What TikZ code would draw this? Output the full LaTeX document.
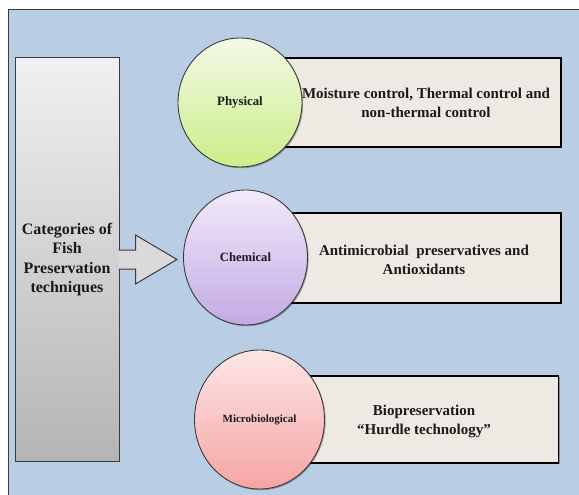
\documentclass[tikz,border=0pt]{standalone}
\usepackage{fontspec}
\setmainfont{Liberation Serif}
\usetikzlibrary{shapes.geometric,shadows,calc}
\definecolor{bgblue}{HTML}{B9CDE5}
\definecolor{framec}{HTML}{3A3A3A}
\definecolor{boxfill}{HTML}{EEEAE3}
\definecolor{physTop}{HTML}{F3F9E6}
\definecolor{physBot}{HTML}{CBEE88}
\definecolor{chemTop}{HTML}{F2EAFA}
\definecolor{chemBot}{HTML}{C2AAE4}
\definecolor{micTop}{HTML}{FDE6E6}
\definecolor{micBot}{HTML}{F6A4A4}
\definecolor{catTop}{HTML}{F0F0F3}
\definecolor{catBot}{HTML}{B4B4B4}
\definecolor{arrowfill}{HTML}{DADADA}
\definecolor{txt}{HTML}{1A1A1A}
\begin{document}
\begin{tikzpicture}[x=1pt,y=-1pt,
  softshadow/.style={drop shadow={shadow xshift=1.2pt,shadow yshift=-1.2pt,opacity=0.3,fill=black}},
  catbox/.style={rectangle,draw=framec,line width=1pt,top color=catTop,bottom color=catBot,
    align=center,text=txt,font=\fontsize{16}{19.3}\selectfont\bfseries,softshadow},
  infobox/.style={rectangle,draw=black,line width=1.2pt,fill=boxfill,softshadow},
  infotext/.style={align=center,text=txt,font=\fontsize{15}{19}\selectfont\bfseries,inner sep=0pt},
  bubble/.style={ellipse,draw=framec,line width=0.9pt,text=txt,inner sep=0pt,softshadow},
  arrowst/.style={fill=arrowfill},
  arrowline/.style={draw=framec,line width=1pt,line join=miter}
]
\useasboundingbox (0,0) rectangle (579,495);
\clip (0,0) rectangle (579,495);
\fill[white] (0,0) rectangle (579,495);
\draw[fill=bgblue,draw=framec,line width=1pt] (8.5,9.5) rectangle (600,520);

% left category box
\node[catbox,minimum width=104,minimum height=403] (cat) at (67,259.5)
  {Categories of\\Fish\\Preservation\\techniques};

% block arrow
\coordinate (tip) at (177,259.5);
\coordinate (s1) at ($(cat.east)+(-1,-9.5)$);
\coordinate (s2) at ($(cat.east)+(16,-9.5)$);
\coordinate (h1) at ($(cat.east)+(16,-24.5)$);
\coordinate (h2) at ($(cat.east)+(16,24.5)$);
\coordinate (s3) at ($(cat.east)+(16,9.5)$);
\coordinate (s4) at ($(cat.east)+(-1,9.5)$);
\fill[arrowst] (s1) -- (s2) -- (h1) -- (tip) -- (h2) -- (s3) -- (s4) -- cycle;
\draw[arrowline] (s1) -- (s2) -- (h1) -- (tip) -- (h2) -- (s3) -- (s4);

% info boxes
\node[infobox,minimum width=281,minimum height=89] (pbox) at (420.5,102.5) {};
\node[infobox,minimum width=276,minimum height=90] (cbox) at (423,258) {};
\node[infobox,minimum width=258.5,minimum height=87] (mbox) at (429.25,419.5) {};

\node[infotext] (ptext) at (426,102.5) {Moisture control, Thermal control and\\non-thermal control};
\node[infotext] (ctext) at (424,259.5) {Antimicrobial\ \ preservatives and\\Antioxidants};
\node[infotext] (mtext) at (424,421.7) {Biopreservation\\“Hurdle technology”};

% bubbles
\node[bubble,top color=physTop,bottom color=physBot,minimum width=124,minimum height=129,
  font=\fontsize{12.8}{14}\selectfont\bfseries] (phys) at (240,102.5) {Physical};
\node[bubble,top color=chemTop,bottom color=chemBot,minimum width=124,minimum height=135,
  font=\fontsize{12.6}{14}\selectfont\bfseries] (chem) at (245.5,257.5) {Chemical};
\node[bubble,top color=micTop,bottom color=micBot,minimum width=130,minimum height=139,
  font=\fontsize{11}{13}\selectfont\bfseries] (micro) at (259.5,419.5) {Microbiological};
\end{tikzpicture}
\end{document}
